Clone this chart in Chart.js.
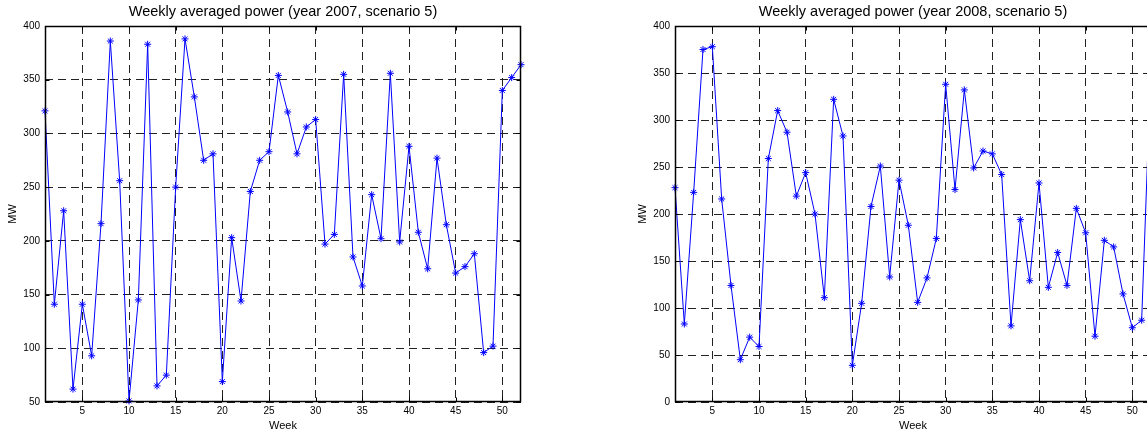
<!DOCTYPE html>
<html>
<head>
<meta charset="utf-8">
<script src="https://cdn.jsdelivr.net/npm/chart.js@4"></script>
<style>
  html, body { margin: 0; padding: 0; background: #fff; }
  body { width: 1147px; height: 434px; overflow: hidden; position: relative; }
  .box { position: absolute; top: 0; width: 566px; height: 434px; }
</style>
</head>
<body>
<div class="box" style="left:0px"><canvas id="chart2007"></canvas></div>
<div class="box" style="left:630px"><canvas id="chart2008"></canvas></div>
<script>
// semaines
const weeks = [1,2,3,4,5,6,7,8,9,10,11,12,13,14,15,16,17,18,19,20,21,22,23,24,25,26,
               27,28,29,30,31,32,33,34,35,36,37,38,39,40,41,42,43,44,45,46,47,48,49,50,51,52];
const weekTicks = [5,10,15,20,25,30,35,40,45,50];

// MW moyens par semaine
const power2007 = [321,141,228,62,141,93,216,386,256,51,145,383,65,75,250,388,334,275,281,69,
                   203,144,246,275,283,354,320,281,306,313,197,206,355,185,158,243,202,356,199,288,
                   208,174,277,215,170,176,188,96,102,340,352,364];
const power2008 = [228,83,223,375,378,216,124,45,69,59,259,310,287,219,244,200,111,322,283,39,
                   105,208,251,133,236,188,106,132,174,338,226,332,249,267,264,242,81,194,129,233,
                   122,159,124,206,180,70,172,165,115,79,87,360];

const yTicks2007 = [50,100,150,200,250,300,350,400];
const yTicks2008 = [0,50,100,150,200,250,300,350,400];

Chart.defaults.font.family = '"Liberation Sans", Arial, sans-serif';
Chart.defaults.color = '#000';
Chart.defaults.animation = false;

// cadre noir + petites graduations vers l'intérieur (style matlab)
const matlabBox = {
  id: 'matlabBox',
  afterDraw(chart) {
    const {ctx, chartArea: a, scales: {x, y}} = chart;
    const L = Math.round(a.left) + 0.5, R = Math.round(a.right) - 0.5;
    const T = Math.round(a.top) + 0.5, B = Math.round(a.bottom) - 0.5;
    const len = 4;
    ctx.save();
    ctx.strokeStyle = '#000';
    ctx.lineWidth = 1;
    ctx.beginPath();
    x.ticks.forEach(t => {
      const px = Math.round(x.getPixelForValue(t.value)) + 0.5;
      ctx.moveTo(px, B); ctx.lineTo(px, B - len);
      ctx.moveTo(px, T); ctx.lineTo(px, T + len);
    });
    y.ticks.forEach(t => {
      const py = Math.round(y.getPixelForValue(t.value)) + 0.5;
      ctx.moveTo(L, py); ctx.lineTo(L + len, py);
      ctx.moveTo(R, py); ctx.lineTo(R - len, py);
    });
    ctx.stroke();
    ctx.lineWidth = 1.5;
    ctx.strokeRect(L, T, R - L, B - T);
    ctx.restore();
  }
};

function makeChart(id, year, values, yMin, yTicks) {
  const points = weeks.map((w, i) => ({x: w, y: values[i]}));
  return new Chart(document.getElementById(id), {
    type: 'line',
    data: {
      datasets: [{
        data: points,
        borderColor: '#0000ff',
        borderWidth: 1,
        pointStyle: 'star',
        pointRadius: 3.5,
        pointBorderColor: '#0000ff',
        pointBorderWidth: 1,
        tension: 0,
        clip: false
      }]
    },
    options: {
      responsive: true,
      maintainAspectRatio: false,
      layout: { padding: 0 },
      plugins: {
        legend: { display: false },
        tooltip: { enabled: false },
        title: {
          display: true,
          text: `Weekly averaged power (year ${year}, scenario 5)`,
          font: { size: 14.5, weight: 'normal' },
          color: '#000',
          padding: { top: 3, bottom: 5.6 }
        }
      },
      scales: {
        x: {
          type: 'linear',
          min: 1, max: 52,
          afterBuildTicks: s => { s.ticks = weekTicks.map(v => ({value: v})); },
          afterFit: s => { s.height = 32; },
          grid: { color: '#222', lineWidth: 1, drawTicks: false },
          border: { display: false, dash: [8, 5] },
          ticks: { font: { size: 10 }, padding: 3, maxRotation: 0, autoSkip: false },
          title: { display: true, text: 'Week', font: { size: 11 }, padding: { top: 0, bottom: 1 } }
        },
        y: {
          min: yMin, max: 400,
          afterBuildTicks: s => { s.ticks = yTicks.map(v => ({value: v})); },
          afterFit: s => { s.width = 45; },
          grid: { color: '#222', lineWidth: 1, drawTicks: false },
          border: { display: false, dash: [8, 5] },
          ticks: { font: { size: 10 }, padding: 5 },
          title: { display: true, text: 'MW', font: { size: 11 }, padding: { top: 6, bottom: 0 } }
        },
        // axe vide à droite, juste pour centrer le titre sur la zone du graphe
        yRight: {
          position: 'right',
          min: yMin, max: 400,
          afterFit: s => { s.width = 45; },
          grid: { display: false, drawTicks: false },
          border: { display: false },
          ticks: { display: false }
        }
      }
    },
    plugins: [matlabBox]
  });
}

makeChart('chart2007', 2007, power2007, 50, yTicks2007);
makeChart('chart2008', 2008, power2008, 0, yTicks2008);
</script>
</body>
</html>
